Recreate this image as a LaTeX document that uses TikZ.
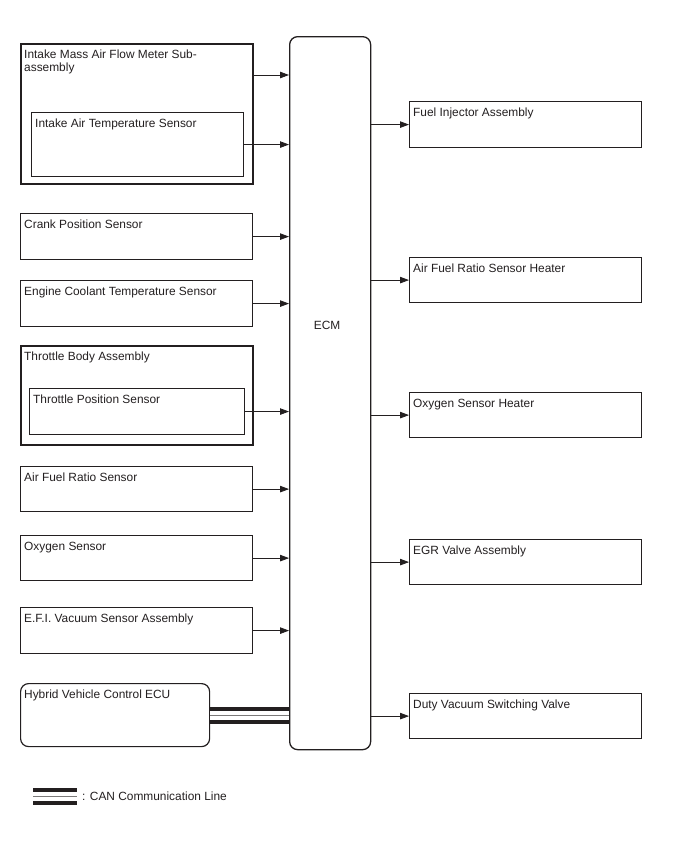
\documentclass[tikz,border=0pt]{standalone}
\usepackage{fontspec}
\setmainfont{Liberation Sans}
\usetikzlibrary{arrows.meta}
\definecolor{ink}{HTML}{231F20}

\begin{document}
\begin{tikzpicture}[
    x=1pt, y=-1pt,
    every node/.style={font=\fontsize{11.9}{13.6}\selectfont, text=ink},
    part/.style={draw=ink, line width=1.2pt, anchor=north west, minimum width=232pt, minimum height=46pt, inner sep=0pt},
    group/.style={part, line width=1.7pt},
    sub/.style={draw=ink, line width=1.1pt, anchor=north west, inner sep=0pt},
    tag/.style={anchor=north west, inner sep=0pt, xshift=4pt, yshift=-6.5pt, align=left},
    sig/.style={-{Triangle[length=9pt, width=6.5pt]}, draw=ink, line width=0.8pt},
    canbus/.style={draw=ink, line width=17pt, postaction={draw=white, line width=9pt}, postaction={draw=ink!60, line width=1pt}}
]
\useasboundingbox (0,0) rectangle (688,852);

% inputs
\node[group, minimum height=140pt, label={[tag]north west:Intake Mass Air Flow Meter Sub-\\assembly}] (maf) at (20,43) {};
\node[sub, minimum width=212pt, minimum height=64pt, label={[tag]north west:Intake Air Temperature Sensor}] (iat) at (31,112) {};
\node[part, label={[tag]north west:Crank Position Sensor}] (crank) at (20,213) {};
\node[part, label={[tag]north west:Engine Coolant Temperature Sensor}] (ect) at (20,280) {};
\node[group, minimum height=99pt, label={[tag]north west:Throttle Body Assembly}] (tba) at (20,345) {};
\node[sub, minimum width=215pt, minimum height=46pt, label={[tag]north west:Throttle Position Sensor}] (tps) at (29,388) {};
\node[part, minimum height=45pt, label={[tag]north west:Air Fuel Ratio Sensor}] (afs) at (20,466) {};
\node[part, minimum height=45pt, label={[tag]north west:Oxygen Sensor}] (o2s) at (20,535) {};
\node[part, label={[tag]north west:E.F.I. Vacuum Sensor Assembly}] (vac) at (20,607) {};
\node[part, rounded corners=8pt, minimum width=189pt, minimum height=63pt, label={[tag]north west:Hybrid Vehicle Control ECU}] (hv) at (20,683) {};

% ECM
\node[draw=ink, line width=1.3pt, rounded corners=8pt, anchor=north west, minimum width=81pt, minimum height=713pt, inner sep=0pt] (ecm) at (289,36) {};
\node[xshift=-3pt] (ecmname) at ([yshift=-289pt]ecm.north) {ECM};

% outputs
\node[part, minimum height=46pt, label={[tag]north west:Fuel Injector Assembly}] (inj) at (409,101) {};
\node[part, minimum height=45pt, label={[tag]north west:Air Fuel Ratio Sensor Heater}] (afh) at (409,257) {};
\node[part, minimum height=45pt, label={[tag]north west:Oxygen Sensor Heater}] (o2h) at (409,392) {};
\node[part, minimum height=45pt, label={[tag]north west:EGR Valve Assembly}] (egr) at (409,539) {};
\node[part, minimum height=45pt, label={[tag]north west:Duty Vacuum Switching Valve}] (vsv) at (409,693) {};

% signals
\coordinate (mafout) at ([yshift=-32pt]maf.north east);
\draw[sig] (mafout) -- (mafout -| ecm.west);
\draw[sig] (iat) -- (iat -| ecm.west);
\foreach \n in {crank, ect, tps, afs, o2s, vac}
    \draw[sig] (\n) -- (\n -| ecm.west);
\foreach \n in {inj, afh, o2h, egr, vsv}
    \draw[sig] (\n -| ecm.east) -- (\n);
\draw[canbus] (hv) -- (hv -| ecm.west);

% legend
\coordinate (keyL) at (33,796.5);
\coordinate (keyR) at (77,796.5);
\draw[canbus] (keyL) -- (keyR);
\node[anchor=west, inner sep=0pt] (keytxt) at (82,796) {: CAN Communication Line};
\end{tikzpicture}
\end{document}
